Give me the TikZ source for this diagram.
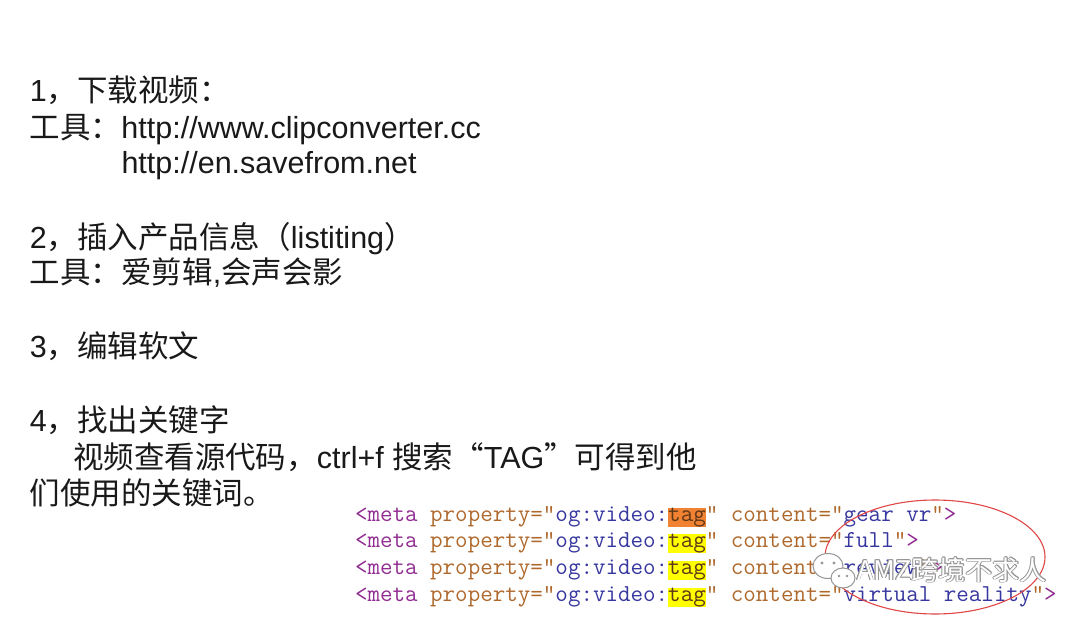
\documentclass[tikz,border=0pt]{standalone}
\usepackage{fontspec}
\setmainfont{Liberation Sans}
\newfontfamily\cjk{Noto Sans CJK SC}
\definecolor{txt}{RGB}{25,25,25}
\definecolor{cpur}{RGB}{145,45,145}
\definecolor{cbrn}{RGB}{175,105,45}
\definecolor{cblu}{RGB}{55,55,160}
\definecolor{ctag}{RGB}{95,55,25}
\definecolor{horange}{RGB}{240,130,50}
\definecolor{hyellow}{RGB}{255,255,0}
\definecolor{ered}{RGB}{225,70,70}
\definecolor{wmgray}{RGB}{150,150,150}
\newcommand\codeline[1]{\textcolor{cpur}{<meta} \textcolor{cbrn}{property="}\textcolor{cblu}{og:video:}\textcolor{ctag}{tag}\textcolor{cbrn}{"} \textcolor{cbrn}{content="}\textcolor{cblu}{#1}\textcolor{cbrn}{"}\textcolor{cpur}{>}}
\newcommand\wmtext{{\cjk AMZ跨境不求人}}
\newcommand\wmcopy[2]{\rlap{\hspace*{#1pt}\raisebox{#2pt}{\wmtext}}}
\newcommand\wmoutlined{{\color{wmgray}\wmcopy{0.8}{0}\wmcopy{-0.8}{0}\wmcopy{0}{0.8}\wmcopy{0}{-0.8}\wmcopy{0.6}{0.6}\wmcopy{-0.6}{0.6}\wmcopy{0.6}{-0.6}\wmcopy{-0.6}{-0.6}}{\color{white}\wmtext}}
\tikzset{
  para/.style={anchor=base west, inner sep=0pt, outer sep=0pt, text=txt, font=\fontsize{30.5}{36}\selectfont},
  code/.style={anchor=base west, inner sep=0pt, outer sep=0pt, font=\ttfamily\fontsize{24.33}{26}\selectfont},
  wm/.style={anchor=base west, inner sep=0pt, outer sep=0pt, font=\fontsize{27}{30}\selectfont},
  bubble/.style={draw=wmgray, fill=white, line width=1pt}
}
\begin{document}
\begin{tikzpicture}[x=1pt,y=-1pt]
\useasboundingbox[fill=white] (0,0) rectangle (1080,621);
% paragraphs
\node[para] (l1) at (30,101) {1{\cjk ，下载视频：}};
\node[para] (l2) at (30,138) {{\cjk 工具：}http://www.clipconverter.cc};
\node[para] (l3) at (121.5,173) {http://en.savefrom.net};
\node[para] (l4) at (30,248) {2{\cjk ，插入产品信息（}listiting{\cjk ）}};
\node[para] (l5) at (30,283) {{\cjk 工具：爱剪辑},{\cjk 会声会影}};
\node[para] (l6) at (30,357) {3{\cjk ，编辑软文}};
\node[para] (l7) at (30,431) {4{\cjk ，找出关键字}};
\node[para] (l8) at (73,468) {{\cjk 视频查看源代码，}ctrl+f {\cjk 搜索“}TAG{\cjk ”可得到他}};
\node[para] (l9) at (30,504) {{\cjk 们使用的关键词。}};
% highlights
\fill[horange] (668,508) rectangle (706,527);
\fill[hyellow] (668,534) rectangle (706,553);
\fill[hyellow] (668,561) rectangle (706,580);
\fill[hyellow] (668,588) rectangle (706,607);
% code
\node[code] (c1) at (355,521) {\codeline{gear vr}};
\node[code] (c2) at (355,547) {\codeline{full}};
\node[code] (c3) at (355,574) {\codeline{review}};
\node[code] (c4) at (355,601) {\codeline{virtual reality}};
% red ellipse
\draw[ered, line width=1.1pt] (935,557) ellipse [x radius=110, y radius=57];
% watermark
\draw[bubble] (828,566) ellipse [x radius=15, y radius=12.5];
\fill[wmgray] (822,563) circle (1.6) (834,563) circle (1.6);
\draw[bubble] (843,578) ellipse [x radius=12, y radius=10];
\fill[wmgray] (839,576) circle (1.3) (847,576) circle (1.3);
\node[wm] (wm) at (857,580) {\wmoutlined};
\end{tikzpicture}
\end{document}
